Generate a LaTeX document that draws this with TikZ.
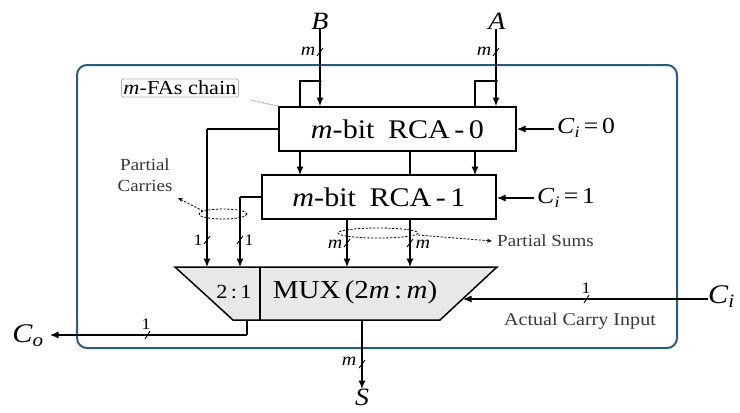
\documentclass[tikz,border=0pt]{standalone}
\usepackage{fontspec}
\setmainfont[FakeStretch=1.12]{Liberation Serif}
\usetikzlibrary{arrows.meta,calc}
\newcommand\fs[1]{\fontsize{#1}{#1}\selectfont}
\definecolor{frame}{RGB}{45,92,115}
\definecolor{muxfill}{RGB}{232,232,232}
\definecolor{txtgray}{RGB}{55,55,55}
\begin{document}
\begin{tikzpicture}[x=1bp,y=-1bp,
  wire/.style={line width=1.1bp},
  arr/.style={wire,-{Latex[length=8.5bp,width=7bp]}},
  blk/.style={draw,line width=2bp,inner sep=0pt,font=\fs{27}},
  dsh/.style={line width=0.8bp,dash pattern=on 2.2bp off 1.6bp},
  tk/.style={line width=0.9bp},
  small/.style={inner sep=0.5bp,font=\fs{18}\itshape},
  one/.style={inner sep=0pt,font=\fs{16}},
  note/.style={inner sep=1bp,font=\fs{17},text=txtgray},
  dot/.style={circle,fill,inner sep=0pt,minimum size=3.5bp}
]
\useasboundingbox (0,0) rectangle (740,412);
% outer frame
\draw[frame,line width=2bp,rounded corners=10bp] (77,65) rectangle (677,348);

% blocks
\node[blk,minimum width=237bp,minimum height=44bp] (rca0) at (397.5,129) {\textit{m}-bit\enspace RCA\,-\,0};
\node[blk,minimum width=234bp,minimum height=44bp] (rca1) at (379,197) {\textit{m}-bit\enspace RCA\,-\,1};
\draw[line width=1.5bp,fill=muxfill] (175,267) -- (497,267) -- (440,320) -- (233,320) -- cycle;
\draw[line width=1.3bp] (260,267) -- (260,320);
\node[inner sep=0pt,font=\fs{20}] (two) at (234,292) {2\,:\,1};
\node[inner sep=0pt,font=\fs{26}] (mux) at (355,292) {MUX\,(2\textit{m}\,:\,\textit{m})};
\coordinate (mA) at (207,267);
\coordinate (mB) at (240,267);
\coordinate (mC) at (347,267);
\coordinate (mD) at (410,267);
\coordinate (mR) at (463,299);
\coordinate (mCo) at (247,320);
\coordinate (mS) at (362,320);

% inputs B, A
\node[inner sep=0pt,font=\fs{25}\itshape] (B) at (320,21) {B};
\node[inner sep=0pt,font=\fs{25}\itshape] (A) at (497,21) {A};
\coordinate (bdot) at (320,81);
\coordinate (adot) at (496,81);
\draw[arr] (B.south) -- (B.south |- rca0.north);
\draw[arr] (A.south -| adot) -- (adot |- rca0.north);
\draw[wire] (bdot) -| (300,107);
\draw[wire] (adot) -| (475,107);
\node[dot] at (bdot) {};
\node[dot] at (adot) {};
\draw[tk] (317,56) -- (323,48);
\draw[tk] (493,56) -- (499,48);
\node[small,anchor=east] (mb) at (316,51) {m};
\node[small,anchor=east] (ma) at (492,51) {m};

% RCA0 -> RCA1
\draw[arr] (300,151) -- (300,175);
\draw[arr] (475,151) -- (475,175);
\draw[wire] (410,151) -- (410,175);

% carry inputs
\node[inner sep=0pt,anchor=west,font=\fs{23}] (ci0) at (557,128) {\textit{C}\textsubscript{\textit{i}}\,=\,0};
\node[inner sep=0pt,anchor=west,font=\fs{23}] (ci1) at (537,198) {\textit{C}\textsubscript{\textit{i}}\,=\,1};
\draw[arr] (ci0.west |- rca0.east) ++(-3,0) -- (rca0.east);
\draw[arr] ($(ci1.west)+(-3,0)$) -- (ci1.west -| rca1.east);

% partial carries
\draw[wire] (rca0.west) -- (207,129);
\draw[arr] (207,129) -- (mA);
\draw[wire] (rca1.west |- 0,197) -- (240,197);
\draw[arr] (240,197) -- (mB);
\draw[tk] (204,244) -- (210,236);
\draw[tk] (237,244) -- (243,236);
\node[one] at (198,240) {1};
\node[one] at (249,240) {1};
\draw[dsh] (223,214) ellipse [x radius=24, y radius=5];
\draw[dsh,-{Stealth[length=5bp,width=4bp]}] (203,211) -- (178,198);
\node[note] (pc1) at (145,165) {Partial};
\node[note] (pc2) at (145,186) {Carries};

% partial sums
\draw[arr] (347,219) -- (mC);
\draw[arr] (410,219) -- (mD);
\draw[tk] (344,247) -- (350,239);
\draw[tk] (407,247) -- (413,239);
\node[small,anchor=east] at (343,244) {m};
\node[small,anchor=west] at (415,244) {m};
\draw[dsh] (378,233) ellipse [x radius=40, y radius=5];
\draw[dsh,-{Stealth[length=5bp,width=4bp]}] (418,235) -- (492,241);
\node[note,anchor=west] (ps) at (496,241) {Partial Sums};

% actual carry input
\node[inner sep=0pt,anchor=west,font=\fs{27}\itshape] (Ci) at (708,297) {C\textsubscript{i}};
\draw[arr] (Ci.west |- mR) -- (mR);
\draw[tk] (584,303) -- (589,295);
\node[one] at (586,288) {1};
\node[note,font=\fs{18}] (aci) at (580,321) {Actual Carry Input};

% carry out
\node[inner sep=0pt,font=\fs{27}\itshape] (Co) at (28,336) {C\textsubscript{o}};
\draw[wire] (mCo) -- (247,335);
\draw[arr] (247,335) -- (50,335);
\draw[tk] (145,339) -- (150,331);
\node[one] at (146,324) {1};

% sum out
\node[inner sep=0pt,anchor=north,font=\fs{25}\itshape] (S) at (362,389) {S};
\draw[arr] (mS) -- (S.north);
\draw[tk] (359,368) -- (365,360);
\node[small,anchor=east] at (357,361) {m};

% m-FAs chain label
\node[draw=gray!60,line width=0.8bp,rounded corners=2bp,inner sep=2bp,font=\fs{20}] (fa) at (180,88) {\textit{m}-FAs chain};
\draw[gray,line width=0.7bp,dash pattern=on 1.5bp off 1bp] (250,100) -- (rca0.north west);
\end{tikzpicture}
\end{document}
